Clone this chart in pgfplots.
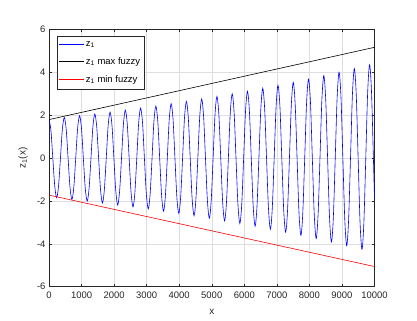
\documentclass[border=0pt]{standalone}
\usepackage{pgfplots}
\pgfplotsset{compat=1.18}
\usepackage{fontspec}
\setmainfont{Liberation Sans}
\definecolor{axgray}{RGB}{38,38,38}
\definecolor{gridgray}{RGB}{222,222,222}

\begin{document}
\begin{tikzpicture}
  \path (-49bp,-34.3bp) rectangle (368bp,286.7bp);
  \begin{axis}[
      at={(0,0)}, anchor=south west,
      scale only axis, width=325.5bp, height=257.4bp,
      xmin=0, xmax=10000, ymin=-6, ymax=6,
      xtick={0,1000,...,10000}, ytick={-6,-4,...,6},
      scaled x ticks=false,
      /pgf/number format/.cd, 1000 sep={}, assume math mode=true,
      /pgfplots/.cd,
      grid=major,
      major grid style={gridgray, line width=0.5bp},
      axis line style={axgray, line width=0.5bp},
      tick style={axgray, line width=0.5bp},
      tick align=inside, major tick length=3bp,
      tick label style={font=\fontsize{9.5}{11}\selectfont, text=axgray},
      xticklabel style={yshift=-2bp},
      xlabel={x}, ylabel={z\textsubscript{1}(x)},
      label style={font=\fontsize{10}{12}\selectfont, text=axgray},
      x label style={at={(axis description cs:0.5,-0.097)}, anchor=center},
      y label style={at={(axis description cs:-0.08,0.5)}, anchor=center},
      legend style={at={(0.0237,0.975)}, anchor=north west, draw=axgray,
        line width=0.5bp, font=\fontsize{9.5}{11}\selectfont,
        inner xsep=2bp, inner ysep=3.5bp, row sep=5.5bp},
      legend cell align=left,
      legend image code/.code={\fill[#1, draw=none] (0bp,-0.35bp) rectangle (25bp,0.35bp);},
    ]
    \addplot[blue, line width=0.6bp, smooth] coordinates {
      (0,1.81)(59,1.29)(117,0)(176,-1.30)(235,-1.85)(293,-1.31)(352,0)(410,1.33)
      (469,1.89)(528,1.34)(586,0)(645,-1.36)(704,-1.93)(762,-1.37)(821,0)(879,1.38)
      (938,1.97)(997,1.40)(1055,0)(1114,-1.41)(1173,-2.01)(1231,-1.43)(1290,0)(1348,1.44)
      (1407,2.05)(1466,1.46)(1524,0)(1583,-1.47)(1642,-2.10)(1700,-1.49)(1759,0)(1817,1.50)
      (1876,2.14)(1935,1.52)(1993,0)(2052,-1.54)(2111,-2.19)(2169,-1.55)(2228,0)(2286,1.57)
      (2345,2.23)(2404,1.59)(2462,0)(2521,-1.60)(2580,-2.28)(2638,-1.62)(2697,0)(2755,1.64)
      (2814,2.33)(2873,1.65)(2931,0)(2990,-1.67)(3049,-2.37)(3107,-1.69)(3166,0)(3224,1.71)
      (3283,2.42)(3342,1.72)(3400,0)(3459,-1.74)(3518,-2.48)(3576,-1.76)(3635,0)(3693,1.78)
      (3752,2.53)(3811,1.80)(3869,0)(3928,-1.82)(3987,-2.58)(4045,-1.83)(4104,0)(4162,1.85)
      (4221,2.64)(4280,1.87)(4338,0)(4397,-1.89)(4456,-2.69)(4514,-1.91)(4573,0)(4631,1.93)
      (4690,2.75)(4749,1.95)(4807,0)(4866,-1.97)(4925,-2.81)(4983,-1.99)(5042,0)(5100,2.02)
      (5159,2.87)(5218,2.04)(5276,0)(5335,-2.06)(5394,-2.93)(5452,-2.08)(5511,0)(5569,2.10)
      (5628,2.99)(5687,2.12)(5745,0)(5804,-2.15)(5863,-3.05)(5921,-2.17)(5980,0)(6038,2.19)
      (6097,3.11)(6156,2.21)(6214,0)(6273,-2.24)(6332,-3.18)(6390,-2.26)(6449,0)(6507,2.28)
      (6566,3.25)(6625,2.31)(6683,0)(6742,-2.33)(6801,-3.32)(6859,-2.36)(6918,0)(6976,2.38)
      (7035,3.39)(7094,2.41)(7152,0)(7211,-2.43)(7270,-3.46)(7328,-2.46)(7387,0)(7445,2.48)
      (7504,3.53)(7563,2.51)(7621,0)(7680,-2.54)(7739,-3.61)(7797,-2.56)(7856,0)(7914,2.59)
      (7973,3.68)(8032,2.62)(8090,0)(8149,-2.64)(8208,-3.76)(8266,-2.67)(8325,0)(8383,2.70)
      (8442,3.84)(8501,2.73)(8559,0)(8618,-2.76)(8677,-3.92)(8735,-2.79)(8794,0)(8852,2.81)
      (8911,4.00)(8970,2.84)(9028,0)(9087,-2.87)(9146,-4.09)(9204,-2.90)(9263,0)(9321,2.93)
      (9380,4.17)(9439,2.96)(9497,0)(9556,-3.00)(9615,-4.26)(9673,-3.03)(9732,0)(9790,3.06)
      (9849,4.35)(9908,3.09)(9966,0)(10000,-1.92)
    };
    \addlegendentry{z\textsubscript{1}}
    \addplot[black, line width=0.6bp] coordinates {(0,1.79) (10000,5.16)};
    \addlegendentry{z\textsubscript{1} max fuzzy}
    \addplot[red, line width=0.6bp] coordinates {(0,-1.73) (10000,-5.06)};
    \addlegendentry{z\textsubscript{1} min fuzzy}
  \end{axis}
\end{tikzpicture}
\end{document}
